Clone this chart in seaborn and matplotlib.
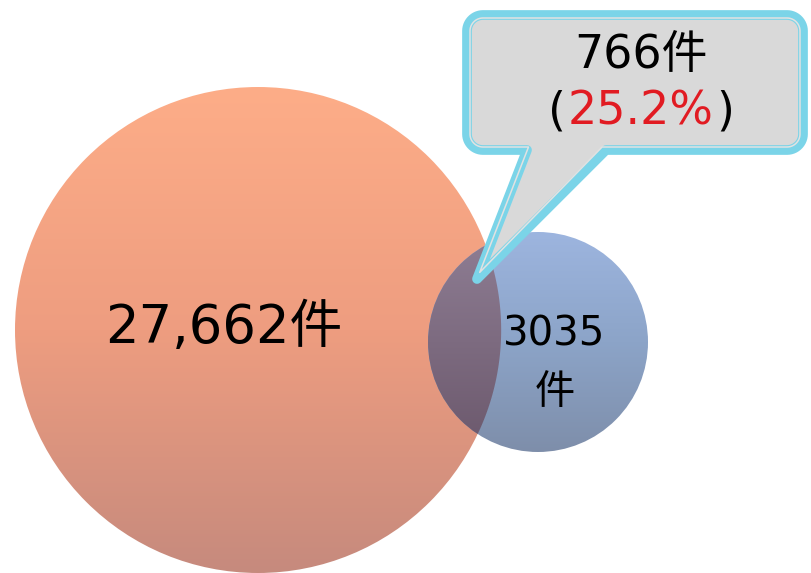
import numpy as np
import matplotlib
matplotlib.use("Agg")
import matplotlib.pyplot as plt
import seaborn as sns
from matplotlib.patches import Circle, PathPatch
from matplotlib.path import Path

sns.set_theme(style="white")
plt.rcParams['font.family'] = ['DejaVu Sans', 'Noto Sans CJK JP']

# ---- data ----
set_names = ["A", "B"]
set_counts = [27662, 3035]
overlap_count = 766
overlap_pct = 25.2
unit = "件"

# ---- layout (pixels) ----
W, H = 811, 573
big = dict(cx=258, cy=330, r=243, top="#FDAD88", mid="#EE9D80", bot="#C68A7D")
small = dict(cx=538, cy=342, r=110, top="#9DB5DF", mid="#8CA4C8", bot="#7E8EAA")
ov_top, ov_bot = "#8F7E94", "#6B586C"

fig = plt.figure(figsize=(W / 100, H / 100), dpi=100)
ax = fig.add_axes([0, 0, 1, 1])
ax.set_axis_off()


def grad_arr(c_top, c_mid, c_bot, n=256):
    t = np.linspace(0, 1, n)[:, None]
    a = np.array(matplotlib.colors.to_rgb(c_top))
    m = np.array(matplotlib.colors.to_rgb(c_mid))
    b = np.array(matplotlib.colors.to_rgb(c_bot))
    out = np.where(t < 0.5, a + (m - a) * (t / 0.5), m + (b - m) * ((t - 0.5) / 0.5))
    return out[:, None, :]


def draw_circle(c, z):
    cx, cy, r = c["cx"], c["cy"], c["r"]
    patch = Circle((cx, cy), r, facecolor="none", edgecolor="none", transform=ax.transData)
    ax.add_patch(patch)
    im = ax.imshow(grad_arr(c["top"], c["mid"], c["bot"]),
                   extent=(cx - r, cx + r, cy + r, cy - r), origin="upper",
                   aspect="auto", zorder=z, interpolation="bilinear")
    im.set_clip_path(patch)


draw_circle(big, 1)
draw_circle(small, 2)

# overlap region
cx, cy, r = small["cx"], small["cy"], small["r"]
n = 2 * r
ys, xs = np.mgrid[cy - r:cy + r:complex(0, n), cx - r:cx + r:complex(0, n)]
d = np.hypot(xs - big["cx"], ys - big["cy"])
alpha = np.clip(big["r"] - d + 0.5, 0, 1)
t = ((ys - (cy - r)) / (2 * r))[..., None]
ct = np.array(matplotlib.colors.to_rgb(ov_top))
cb = np.array(matplotlib.colors.to_rgb(ov_bot))
rgb = ct + (cb - ct) * t
rgba = np.concatenate([rgb, alpha[..., None]], axis=2)
patch = Circle((cx, cy), r, facecolor="none", edgecolor="none")
ax.add_patch(patch)
im = ax.imshow(rgba, extent=(cx - r, cx + r, cy + r, cy - r), origin="upper",
               aspect="auto", zorder=3, interpolation="bilinear")
im.set_clip_path(patch)

# ---- callout ----
box = dict(L=467, R=803, T=15, B=150, r=16, tail_l=527, tail_r=606, tip=(477, 279))


def callout_path(i):
    L, R, T, B = box["L"] + i, box["R"] - i, box["T"] + i, box["B"] - i
    rr = max(box["r"] - i, 2)
    tl, tr = box["tail_l"] + i * 0.5, box["tail_r"] - i * 1.3
    tip = (box["tip"][0] + i * 0.9, box["tip"][1] - i * 2.2)

    def arc(cxa, cya, a0, a1, k=14):
        a = np.radians(np.linspace(a0, a1, k))
        return list(zip(cxa + rr * np.cos(a), cya + rr * np.sin(a)))

    verts = [(L + rr, T), (R - rr, T)]
    verts += arc(R - rr, T + rr, -90, 0)
    verts += [(R, B - rr)]
    verts += arc(R - rr, B - rr, 0, 90)
    verts += [(tr, B), tip, (tl, B), (L + rr, B)]
    verts += arc(L + rr, B - rr, 90, 180)
    verts += [(L, T + rr)]
    verts += arc(L + rr, T + rr, 180, 270)
    verts += [(L + rr, T)]
    codes = [Path.MOVETO] + [Path.LINETO] * (len(verts) - 2) + [Path.CLOSEPOLY]
    return Path(verts, codes)


ax.add_patch(PathPatch(callout_path(0), facecolor="#D9D9D9", edgecolor="#7BD4E8",
                       lw=7.0, joinstyle="round", zorder=5))
ax.add_patch(PathPatch(callout_path(3.0), facecolor="none", edgecolor="#E2E2E2",
                       lw=1.1, joinstyle="round", zorder=6))

# ---- texts ----
ax.text(224, 328, f"{set_counts[0]:,}{unit}", fontsize=38, ha="center", va="center",
        color="black", zorder=7)
ax.text(554, 335, f"{set_counts[1]}", fontsize=29, ha="center", va="center",
        color="black", zorder=7)
ax.text(555, 393, unit, fontsize=29, ha="center", va="center", color="black", zorder=7)
ax.text(641, 55, f"{overlap_count}{unit}", fontsize=33, ha="center", va="center",
        color="black", zorder=7)
red = ax.text(641, 112, f"{overlap_pct}%", fontsize=33, ha="center", va="center",
              color="#E11B22", zorder=7)

ax.set_xlim(0, W)
ax.set_ylim(H, 0)

fig.canvas.draw()
bb = red.get_window_extent()
inv = ax.transData.inverted()
x0 = inv.transform((bb.x0, 0))[0]
x1 = inv.transform((bb.x1, 0))[0]
ax.text(x0 - 2, 112, "(", fontsize=33, ha="right", va="center", color="black", zorder=7)
ax.text(x1 + 2, 112, ")", fontsize=33, ha="left", va="center", color="black", zorder=7)

fig.savefig("out.png", dpi=100)
